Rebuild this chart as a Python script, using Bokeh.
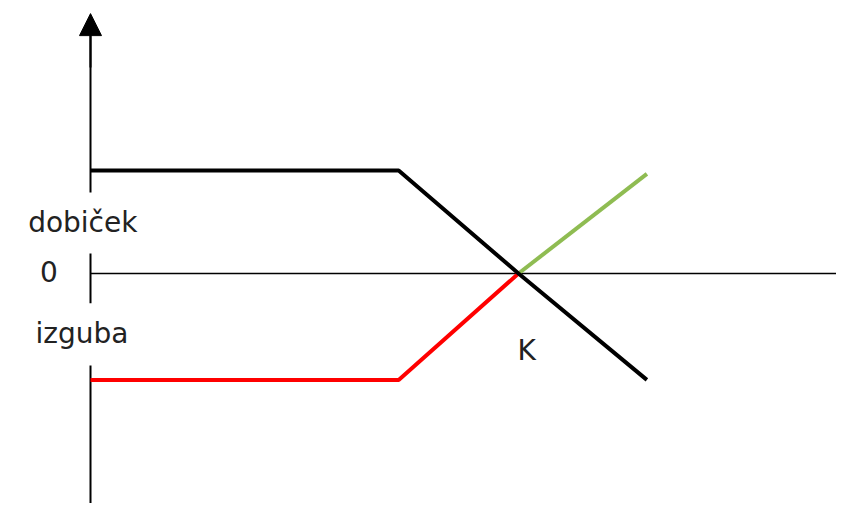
from bokeh.plotting import figure
from bokeh.models import Range1d, Arrow, NormalHead, ColumnDataSource
from bokeh.core.properties import value
from bokeh.embed import file_html
from bokeh.resources import INLINE

# Data (price S on x, payoff on y; K = 100)
black_x = [0, 72, 100, 130]
black_y = [30, 30, 0, -31]
red_x = [0, 72, 100]
red_y = [-31, -31, 0]
green_x = [100, 130]
green_y = [0, 29]

label_text = ["dobiček", "0", "izguba", "K"]
label_x = [-1.8, -9.7, -2.0, 101.9]
label_y = [14.9, 0.6, -17.5, -22.4]

# vertical axis pieces (gaps where labels sit)
vaxis_y0 = [73.1, 5.8, -26.8]
vaxis_y1 = [23.6, -8.7, -75.0]

p = figure(width=836, height=503, output_backend="svg", toolbar_location=None,
           x_range=Range1d(-21.03, 174.3), y_range=Range1d(-67.0, 79.52),
           min_border=0, min_border_left=0, min_border_right=0,
           min_border_top=0, min_border_bottom=0)
p.axis.visible = False
p.grid.visible = False
p.outline_line_color = None
p.background_fill_color = "white"
p.border_fill_color = "white"

# horizontal axis
p.line([0, 200], [0, 0], line_color="black", line_width=1.5)
# vertical axis pieces
p.segment(x0=[0] * 3, y0=vaxis_y0, x1=[0] * 3, y1=vaxis_y1,
          line_color="black", line_width=2)
p.add_layout(Arrow(x_start=0, y_start=60, x_end=0, y_end=75.7,
                   line_color="black", line_width=2,
                   end=NormalHead(size=22, fill_color="black", line_color="black")))

p.line(red_x, red_y, line_color="#ff0000", line_width=4)
p.line(green_x, green_y, line_color="#8fbc52", line_width=4)
p.line(black_x, black_y, line_color="black", line_width=4)

src = ColumnDataSource(dict(x=label_x, y=label_y, t=label_text))
p.text(x="x", y="y", text="t", source=src, text_align="center",
       text_baseline="middle", text_font=value("DejaVu Sans"),
       text_font_size="28px", text_color="#222222")

open("out.html", "w").write(file_html(p, INLINE))
